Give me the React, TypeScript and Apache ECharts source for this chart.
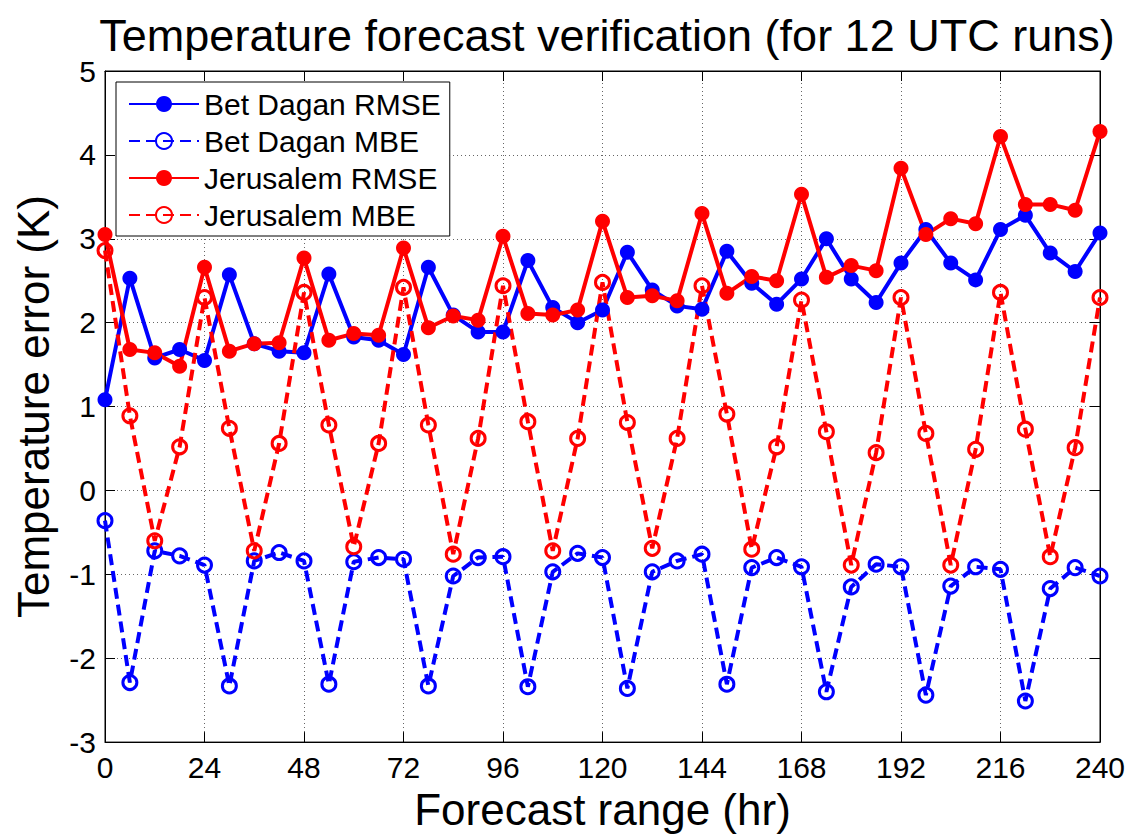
import React, { useEffect, useRef } from "react";
import * as echarts from "echarts";

const hours: number[] = [0, 6, 12, 18, 24, 30, 36, 42, 48, 54, 60, 66, 72, 78, 84, 90, 96, 102, 108, 114, 120, 126, 132, 138, 144, 150, 156, 162, 168, 174, 180, 186, 192, 198, 204, 210, 216, 222, 228, 234, 240];

const betDaganRMSE: number[] = [1.08, 2.53, 1.58, 1.68, 1.55, 2.57, 1.75, 1.66, 1.64, 2.58, 1.83, 1.79, 1.62, 2.66, 2.09, 1.89, 1.89, 2.74, 2.18, 2.0, 2.15, 2.84, 2.39, 2.2, 2.16, 2.85, 2.47, 2.22, 2.52, 3.0, 2.52, 2.24, 2.71, 3.11, 2.71, 2.51, 3.11, 3.28, 2.83, 2.61, 3.07];

const betDaganMBE: number[] = [-0.36, -2.29, -0.72, -0.78, -0.89, -2.33, -0.84, -0.74, -0.84, -2.31, -0.85, -0.8, -0.82, -2.33, -1.02, -0.8, -0.79, -2.34, -0.97, -0.75, -0.8, -2.36, -0.97, -0.84, -0.76, -2.31, -0.92, -0.8, -0.91, -2.4, -1.15, -0.88, -0.91, -2.44, -1.14, -0.91, -0.94, -2.51, -1.17, -0.92, -1.02];

const jerusalemRMSE: number[] = [3.05, 1.68, 1.64, 1.48, 2.66, 1.66, 1.75, 1.76, 2.77, 1.79, 1.87, 1.85, 2.89, 1.94, 2.08, 2.03, 3.03, 2.11, 2.09, 2.15, 3.21, 2.3, 2.32, 2.26, 3.3, 2.35, 2.55, 2.5, 3.53, 2.54, 2.68, 2.62, 3.84, 3.05, 3.24, 3.18, 4.22, 3.41, 3.41, 3.34, 4.28];

const jerusalemMBE: number[] = [2.86, 0.89, -0.6, 0.52, 2.3, 0.74, -0.72, 0.56, 2.36, 0.78, -0.67, 0.56, 2.42, 0.78, -0.76, 0.62, 2.44, 0.82, -0.72, 0.62, 2.48, 0.81, -0.69, 0.62, 2.44, 0.91, -0.7, 0.52, 2.27, 0.7, -0.89, 0.45, 2.3, 0.68, -0.89, 0.49, 2.36, 0.73, -0.79, 0.51, 2.3];

const seriesNames: string[] = ["Bet Dagan RMSE", "Bet Dagan MBE", "Jerusalem RMSE", "Jerusalem MBE"];

const FONT = "Liberation Sans";
const BLUE = "#0000ff";
const RED = "#ff0000";

function pairs(vals: number[]): number[][] {
  return hours.map((h, i) => [h, vals[i]]);
}

function solidSeries(name: string, color: string, vals: number[]) {
  return {
    name,
    type: "line",
    data: pairs(vals),
    color,
    symbol: "circle",
    symbolSize: 15,
    clip: false,
    lineStyle: { color, width: 4, type: "solid" },
    itemStyle: { color, borderColor: color, borderWidth: 0 },
  };
}

function dashedSeries(name: string, color: string, vals: number[]) {
  return {
    name,
    type: "line",
    data: pairs(vals),
    color,
    symbol: "circle",
    symbolSize: 14,
    clip: false,
    lineStyle: { color, width: 4, type: [11, 6] },
    itemStyle: { color: "rgba(255,255,255,0)", borderColor: color, borderWidth: 3 },
  };
}

export default function App() {
  const ref = useRef<HTMLDivElement>(null);

  useEffect(() => {
    if (!ref.current) return;
    const chart = echarts.init(ref.current, undefined, { renderer: "svg" });
    const gridLine = { show: true, lineStyle: { color: "#666", type: [1, 3], width: 1 } };
    const option: any = {
      animation: false,
      backgroundColor: "#fff",
      title: {
        text: "Temperature forecast verification (for 12 UTC runs)",
        left: 602,
        textAlign: "center",
        top: 8,
        textStyle: { fontFamily: FONT, fontSize: 45, fontWeight: "normal", color: "#000" },
      },
      grid: {
        left: 105,
        right: 34,
        top: 71,
        bottom: 86,
        show: true,
        borderColor: "#000",
        borderWidth: 1,
        backgroundColor: "#fff",
      },
      legend: {
        data: seriesNames,
        orient: "vertical",
        left: 116,
        top: 82,
        backgroundColor: "#fff",
        borderColor: "#000",
        borderWidth: 1,
        padding: [7, 9, 6, 12],
        itemWidth: 70,
        itemHeight: 20,
        itemGap: 7,
        textStyle: { fontFamily: FONT, fontSize: 30, color: "#000", lineHeight: 30 },
      },
      xAxis: [
        {
          type: "value",
          min: 0,
          max: 240,
          interval: 24,
          name: "Forecast range (hr)",
          nameLocation: "middle",
          nameGap: 38,
          nameTextStyle: { fontFamily: FONT, fontSize: 44, color: "#000" },
          axisLine: { show: true, onZero: false, lineStyle: { color: "#000", width: 1 } },
          axisTick: { show: true, inside: true, length: 10, lineStyle: { color: "#000" } },
          axisLabel: { fontFamily: FONT, fontSize: 30, color: "#000", margin: 10 },
          splitLine: gridLine,
        },
        {
          type: "value",
          position: "top",
          min: 0,
          max: 240,
          interval: 24,
          axisLine: { show: true, onZero: false, lineStyle: { color: "#000", width: 1 } },
          axisTick: { show: true, inside: true, length: 10, lineStyle: { color: "#000" } },
          axisLabel: { show: false },
          splitLine: { show: false },
        },
      ],
      yAxis: [
        {
          type: "value",
          min: -3,
          max: 5,
          interval: 1,
          name: "Temperature error (K)",
          nameLocation: "middle",
          nameRotate: 90,
          nameGap: 50,
          nameTextStyle: { fontFamily: FONT, fontSize: 44, color: "#000" },
          axisLine: { show: true, onZero: false, lineStyle: { color: "#000", width: 1 } },
          axisTick: { show: true, inside: true, length: 10, lineStyle: { color: "#000" } },
          axisLabel: { fontFamily: FONT, fontSize: 30, color: "#000", margin: 9 },
          splitLine: gridLine,
        },
        {
          type: "value",
          position: "right",
          min: -3,
          max: 5,
          interval: 1,
          axisLine: { show: true, onZero: false, lineStyle: { color: "#000", width: 1 } },
          axisTick: { show: true, inside: true, length: 10, lineStyle: { color: "#000" } },
          axisLabel: { show: false },
          splitLine: { show: false },
        },
      ],
      series: [
        solidSeries(seriesNames[0], BLUE, betDaganRMSE),
        dashedSeries(seriesNames[1], BLUE, betDaganMBE),
        solidSeries(seriesNames[2], RED, jerusalemRMSE),
        dashedSeries(seriesNames[3], RED, jerusalemMBE),
      ],
    };
    chart.setOption(option);
    return () => chart.dispose();
  }, []);

  return (
    <div
      ref={ref}
      style={{ position: "absolute", left: 0, top: 0, width: 1134, height: 836 }}
    />
  );
}
